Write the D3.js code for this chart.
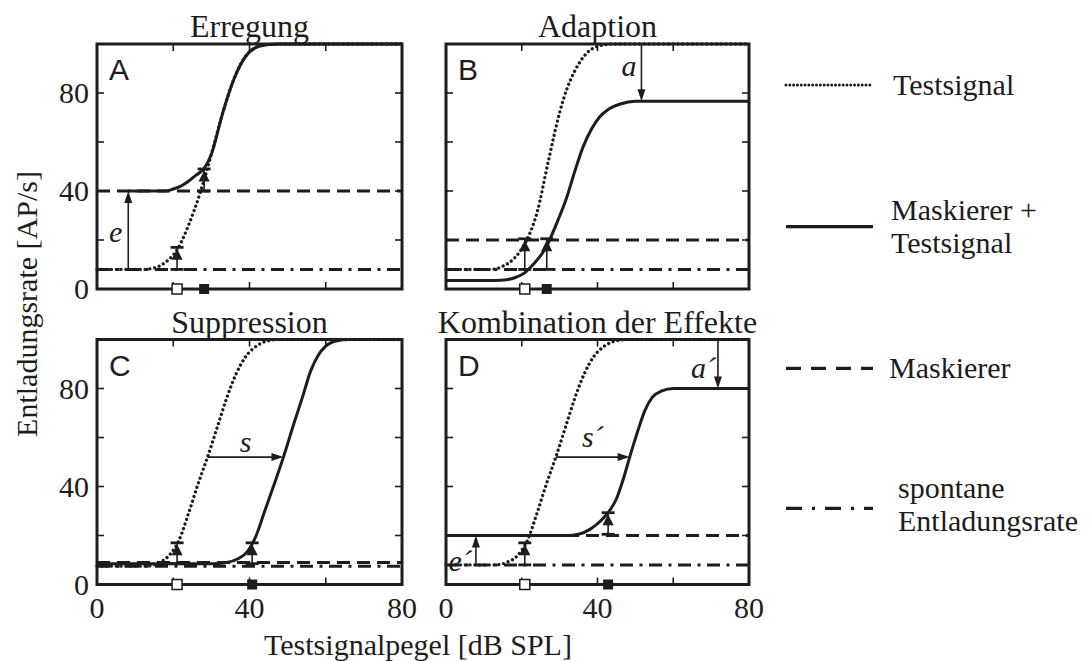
<!DOCTYPE html>
<html>
<head>
<meta charset="utf-8">
<script src="https://cdn.jsdelivr.net/npm/d3@7"></script>
<style>
  body { margin: 0; background: #fff; }
  svg { display: block; }
</style>
</head>
<body>
<svg id="chart" width="1092" height="661"></svg>
<script>
// ---- data -------------------------------------------------------------
const panelIds = ["A", "B", "C", "D"];
const panelTitles = ["Erregung", "Adaption", "Suppression", "Kombination der Effekte"];

const xTickValues = [20, 40, 60];
const yTickValues = [20, 40, 60, 80];
const xTickLabels = [0, 40, 80];
const yTickLabels = [0, 40, 80];

// rate of the masker alone and spontaneous rate (AP/s)
const maskerRate = [40, 20, 9, 20];
const spontRate = [8, 8, 7.5, 8];

// rate-level function of the test signal alone: [level dB SPL, rate AP/s]
const testsignalA = [[0,8],[12,8],[15,8.6],[18,11],[21,16],[24,26],[27,39],[30,55],[33,72],[36,86],[39,95],[42,98.8],[45,99.8],[48,100],[80,100]];
const testsignalB = [[0,8],[12,8],[15,9.3],[18,12.5],[21,19],[24,31],[27,52],[30,72],[32,82],[34,89],[37,96],[40,99],[44,100],[80,100]];
const testsignalC = [[0,7.5],[13,7.5],[16,8.7],[19,12],[21.5,18],[24,29],[26.5,41],[29,52],[31.5,64],[34,76],[36.5,86],[39,93],[42,97.5],[45,99.5],[48,100],[80,100]];
const testsignalD = [[0,8],[13,8],[16,9],[19,12],[21.5,18],[24,29],[26.5,41],[29,52],[31.5,64],[34,76],[36.5,86],[39,93],[42,97.5],[45,99.5],[48,100],[80,100]];

// rate-level function of masker + test signal
const combinedA = [[8.2,40],[18,40],[20,40.8],[22,42],[24,44],[26,46.5],[28,49],[30,55],[33,72],[36,86],[39,95],[42,98.8],[45,99.8],[48,100],[80,100]];
const combinedB = [[0,3.5],[13,3.5],[16,3.8],[18.5,4.8],[20.5,6.3],[23,10],[26.6,17.5],[29,26],[31.8,37],[34,48],[36.2,58],[38.5,65.5],[40.6,70.3],[43,73.5],[46,75.5],[50,76.6],[80,76.6]];
const combinedC = [[0,8.5],[30,8.5],[34,9],[37,10.5],[39.5,13.5],[41.5,19],[44,30],[46.5,41],[48.9,52],[51.5,65],[54,77],[56,87],[58,93.5],[60,97.3],[63,99.5],[66,100],[80,100]];
const combinedD = [[0,20],[32,20],[35,20.5],[38,22.5],[40.5,25.5],[42.8,29.3],[45,35],[47,44],[48.5,52],[50.5,62],[52.5,71],[54.5,76.5],[57,79],[60,80],[80,80]];

// detection thresholds: level, base rate, rate at threshold
const thresholdsA = [{level: 21, from: 8, to: 17}, {level: 28.1, from: 40, to: 49}];
const thresholdsB = [{level: 20.8, from: 8, to: 20.5}, {level: 26.6, from: 8, to: 20.5}];
const thresholdsC = [{level: 21, from: 8.5, to: 17}, {level: 40.7, from: 8.5, to: 17}];
const thresholdsD = [{level: 20.8, from: 8, to: 17}, {level: 42.8, from: 20.5, to: 29.3}];

// threshold levels marked on the level axis (open: test alone, filled: masked)
const thresholdUnmasked = [21, 20.8, 21, 20.8];
const thresholdMasked = [28.1, 26.6, 40.7, 42.8];

// effect arrows: vertical (at a level) or horizontal (at a rate)
const effectsA = [{name: "e", dir: "v", at: 8.2, from: 8, to: 40}];
const effectsB = [{name: "a", dir: "v", at: 51.6, from: 100, to: 76.6}];
const effectsC = [{name: "s", dir: "h", at: 52, from: 29, to: 48.9}];
const effectsD = [
  {name: "e´", dir: "v", at: 7.9, from: 8, to: 20},
  {name: "s´", dir: "h", at: 52, from: 29, to: 48.5},
  {name: "a´", dir: "v", at: 71.8, from: 100, to: 80}
];

const legendLabels = [["Testsignal"], ["Maskierer +", "Testsignal"], ["Maskierer"], ["spontane", "Entladungsrate"]];

const testCurves = [testsignalA, testsignalB, testsignalC, testsignalD];
const combinedCurves = [combinedA, combinedB, combinedC, combinedD];
const thresholds = [thresholdsA, thresholdsB, thresholdsC, thresholdsD];
const effects = [effectsA, effectsB, effectsC, effectsD];

// ---- layout -----------------------------------------------------------
const ink = "#1e1c1d";
const serif = "'Liberation Serif', 'Times New Roman', serif";
const sans = "'Liberation Sans', Arial, sans-serif";

const frames = [
  {x0: 97, x1: 402, yTop: 44, yBot: 289},
  {x0: 446, x1: 749, yTop: 44, yBot: 289},
  {x0: 97, x1: 402, yTop: 339.5, yBot: 584.5},
  {x0: 446, x1: 749, yTop: 339.5, yBot: 584.5}
];

// label placement relative to each effect arrow (pixels)
const effectLabelOffset = {
  "e":  {dx: -6, dy: 12, anchor: "end"},
  "a":  {dx: -5, dy: 3, anchor: "end"},
  "s":  {dx: 0, dy: -5, anchor: "middle"},
  "e´": {dx: -4, dy: 21, anchor: "end"},
  "s´": {dx: 0, dy: -10, anchor: "middle"},
  "a´": {dx: -2, dy: 14, anchor: "end"}
};

const svg = d3.select("#chart");
svg.append("rect").attr("width", 1092).attr("height", 661).attr("fill", "#fff");

const styles = {
  test: {w: 3.3, dash: "0.01 4.8"},
  combined: {w: 3},
  masker: {w: 3, dash: "13 7"},
  spont: {w: 3, dash: "13 6.5 3 6.5"}
};

function arrowHead(g, x, y, angle) {
  // filled triangle with its tip at (x, y), pointing in direction angle (radians)
  const len = 12, half = 4;
  const c = Math.cos(angle), s = Math.sin(angle);
  const pts = [
    [x, y],
    [x - len * c - half * s, y - len * s + half * c],
    [x - len * c + half * s, y - len * s - half * c]
  ];
  g.append("polygon").attr("points", pts.map(p => p.join(",")).join(" ")).attr("fill", ink);
}

panelIds.forEach((id, i) => {
  const f = frames[i];
  const x = d3.scaleLinear().domain([0, 80]).range([f.x0, f.x1]);
  const y = d3.scaleLinear().domain([0, 100]).range([f.yBot, f.yTop]);
  const g = svg.append("g").attr("class", "panel panel-" + id);

  const line = d3.line().x(d => x(d[0])).y(d => y(d[1])).curve(d3.curveMonotoneX);

  // masker alone and spontaneous rate
  g.append("line").attr("x1", f.x0).attr("x2", f.x1)
    .attr("y1", y(maskerRate[i])).attr("y2", y(maskerRate[i]))
    .attr("stroke", ink).attr("stroke-width", styles.masker.w).attr("stroke-dasharray", styles.masker.dash);
  g.append("line").attr("x1", f.x0).attr("x2", f.x1)
    .attr("y1", y(spontRate[i])).attr("y2", y(spontRate[i]))
    .attr("stroke", ink).attr("stroke-width", styles.spont.w).attr("stroke-dasharray", styles.spont.dash);

  // test signal alone (dotted)
  g.append("path").datum(testCurves[i]).attr("d", line)
    .attr("fill", "none").attr("stroke", ink).attr("stroke-width", styles.test.w)
    .attr("stroke-linecap", "round").attr("stroke-dasharray", styles.test.dash);

  // masker + test signal (solid)
  g.append("path").datum(combinedCurves[i]).attr("d", line)
    .attr("fill", "none").attr("stroke", ink).attr("stroke-width", styles.combined.w);

  // threshold markers: stem, caps and upward triangle
  thresholds[i].forEach(t => {
    const cx = x(t.level), yb = y(t.from), yt = y(t.to);
    g.append("line").attr("x1", cx).attr("x2", cx).attr("y1", yb).attr("y2", yt)
      .attr("stroke", ink).attr("stroke-width", 1.6);
    [yb, yt].forEach(yy => g.append("line").attr("x1", cx - 6.5).attr("x2", cx + 6.5)
      .attr("y1", yy).attr("y2", yy).attr("stroke", ink).attr("stroke-width", 2.8));
    g.append("polygon")
      .attr("points", [[cx, yt + 1.5], [cx - 5.6, yt + 12.5], [cx + 5.6, yt + 12.5]].map(p => p.join(",")).join(" "))
      .attr("fill", ink);
  });

  // frame and inward ticks
  g.append("rect").attr("x", f.x0).attr("y", f.yTop)
    .attr("width", f.x1 - f.x0).attr("height", f.yBot - f.yTop)
    .attr("fill", "none").attr("stroke", ink).attr("stroke-width", 3);
  const tl = 7;
  xTickValues.forEach(v => {
    g.append("line").attr("x1", x(v)).attr("x2", x(v)).attr("y1", f.yTop).attr("y2", f.yTop + tl)
      .attr("stroke", ink).attr("stroke-width", 1.6);
    g.append("line").attr("x1", x(v)).attr("x2", x(v)).attr("y1", f.yBot).attr("y2", f.yBot - tl)
      .attr("stroke", ink).attr("stroke-width", 1.6);
  });
  yTickValues.forEach(v => {
    g.append("line").attr("x1", f.x0).attr("x2", f.x0 + tl).attr("y1", y(v)).attr("y2", y(v))
      .attr("stroke", ink).attr("stroke-width", 1.6);
    g.append("line").attr("x1", f.x1).attr("x2", f.x1 - tl).attr("y1", y(v)).attr("y2", y(v))
      .attr("stroke", ink).attr("stroke-width", 1.6);
  });

  // threshold levels on the level axis
  const sq = 10;
  g.append("rect").attr("x", x(thresholdUnmasked[i]) - sq / 2).attr("y", f.yBot - sq / 2)
    .attr("width", sq).attr("height", sq).attr("fill", "#fff").attr("stroke", ink).attr("stroke-width", 1.5);
  g.append("rect").attr("x", x(thresholdMasked[i]) - sq / 2).attr("y", f.yBot - sq / 2)
    .attr("width", sq).attr("height", sq).attr("fill", ink);

  // effect arrows and their italic labels
  effects[i].forEach(e => {
    const off = effectLabelOffset[e.name];
    let lx, ly;
    if (e.dir === "v") {
      const ax = x(e.at), y1 = y(e.from), y2 = y(e.to);
      g.append("line").attr("x1", ax).attr("x2", ax).attr("y1", y1).attr("y2", y2 + (y2 > y1 ? -10 : 10))
        .attr("stroke", ink).attr("stroke-width", 1.6);
      arrowHead(g, ax, y2, y2 > y1 ? Math.PI / 2 : -Math.PI / 2);
      lx = ax + off.dx; ly = (y1 + y2) / 2 + off.dy;
    } else {
      const ay = y(e.at), x1 = x(e.from), x2 = x(e.to);
      g.append("line").attr("x1", x1).attr("x2", x2 - 10).attr("y1", ay).attr("y2", ay)
        .attr("stroke", ink).attr("stroke-width", 1.6);
      arrowHead(g, x2, ay, 0);
      lx = (x1 + x2) / 2 + off.dx; ly = ay + off.dy;
    }
    g.append("text").attr("x", lx).attr("y", ly).attr("text-anchor", off.anchor)
      .attr("font-family", serif).attr("font-style", "italic").attr("font-size", 30)
      .attr("fill", ink).text(e.name);
  });

  // panel letter and title
  g.append("text").attr("x", f.x0 + 12).attr("y", f.yTop + 36)
    .attr("font-family", sans).attr("font-size", 30).attr("fill", ink).text(id);
  g.append("text").attr("x", (f.x0 + f.x1) / 2).attr("y", f.yTop - 7).attr("text-anchor", "middle")
    .attr("font-family", serif).attr("font-size", 32).attr("fill", ink).text(panelTitles[i]);

  // tick labels on the outer edges
  if (i % 2 === 0) {
    yTickLabels.forEach(v => g.append("text").attr("x", f.x0 - 8).attr("y", y(v) + 10)
      .attr("text-anchor", "end").attr("font-family", serif).attr("font-size", 30).attr("fill", ink).text(v));
  }
  if (i >= 2) {
    xTickLabels.forEach(v => g.append("text").attr("x", x(v)).attr("y", f.yBot + 33.5)
      .attr("text-anchor", "middle").attr("font-family", serif).attr("font-size", 30).attr("fill", ink).text(v));
  }
});

// axis titles
svg.append("text").attr("x", 418).attr("y", 655).attr("text-anchor", "middle")
  .attr("font-family", serif).attr("font-size", 30).attr("fill", ink).text("Testsignalpegel [dB SPL]");
svg.append("text").attr("transform", "translate(37,304) rotate(-90)").attr("text-anchor", "middle")
  .attr("font-family", serif).attr("font-size", 30).attr("fill", ink).text("Entladungsrate [AP/s]");

// legend
const legendRows = [
  {lineY: 85, textX: 893, textY: [95], w: 3, dash: "0.01 3.8", cap: "round"},
  {lineY: 226.7, textX: 891, textY: [220, 253], w: 3.3, dash: null, cap: "butt"},
  {lineY: 368.3, textX: 889, textY: [378], w: 3.3, dash: "15 10", cap: "butt"},
  {lineY: 508.3, textX: 898, textY: [498, 531], w: 3.3, dash: "16 10 3 10", cap: "butt"}
];
const legend = svg.append("g").attr("class", "legend");
legendRows.forEach((r, k) => {
  legend.append("line").attr("x1", 786).attr("x2", 873).attr("y1", r.lineY).attr("y2", r.lineY)
    .attr("stroke", ink).attr("stroke-width", r.w).attr("stroke-linecap", r.cap)
    .attr("stroke-dasharray", r.dash);
  legendLabels[k].forEach((t, j) => legend.append("text").attr("x", r.textX).attr("y", r.textY[j])
    .attr("font-family", serif).attr("font-size", 30).attr("fill", ink).text(t));
});
</script>
</body>
</html>
